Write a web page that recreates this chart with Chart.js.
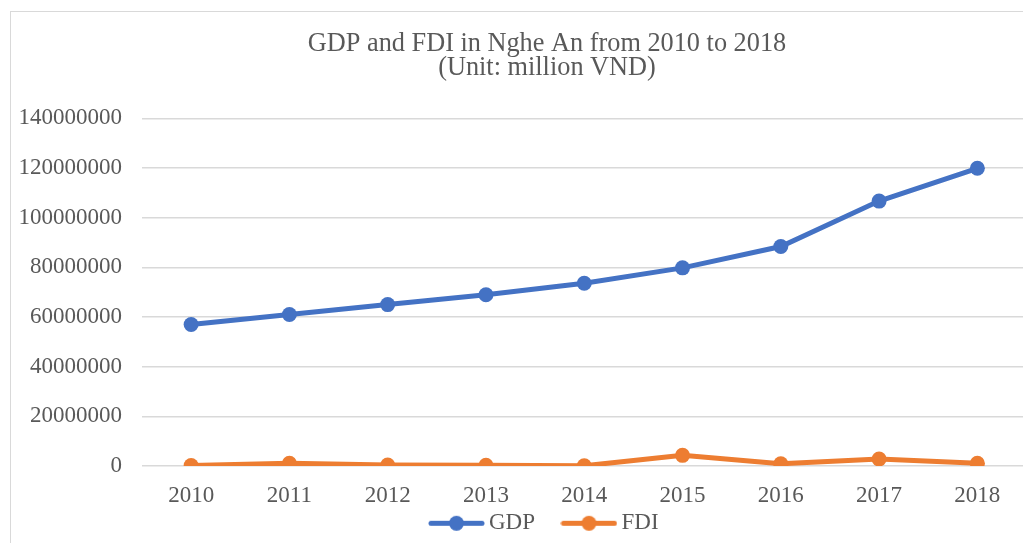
<!DOCTYPE html>
<html>
<head>
<meta charset="utf-8">
<script src="https://cdn.jsdelivr.net/npm/chart.js@4.4.1/dist/chart.umd.min.js"></script>
<style>
  html, body { margin: 0; padding: 0; background: #ffffff; overflow: hidden; width: 1023px; height: 543px; }
  #frame { position: absolute; left: 10px; top: 11px; width: 1200px; height: 800px; border: 1px solid #d9d9d9; box-sizing: border-box; }
  #wrap { position: absolute; left: 0; top: 0; width: 1094px; height: 576px; }
</style>
</head>
<body>
<div id="frame"></div>
<div id="wrap"><canvas id="c" width="1094" height="576"></canvas></div>
<script>
const years = ['2010', '2011', '2012', '2013', '2014', '2015', '2016', '2017', '2018'];
const gdp = [57000000, 61000000, 65000000, 69000000, 73600000, 79800000, 88400000, 106700000, 119900000];
const fdi = [200000, 1100000, 400000, 300000, 100000, 4300000, 900000, 2800000, 1100000];
const seriesNames = ['GDP', 'FDI'];
const titleLines = ['GDP and FDI in Nghe An from 2010 to 2018', '(Unit: million VND)'];

const blue = '#4472C4';
const orange = '#ED7D31';
const textColor = '#595959';
const gridColor = '#d9d9d9';
const serif = "'Liberation Serif', 'Times New Roman', serif";

function legendIcon(color) {
  const cv = document.createElement('canvas');
  cv.width = 57; cv.height = 17;
  const g = cv.getContext('2d');
  g.strokeStyle = color; g.lineWidth = 5; g.lineCap = 'round';
  g.beginPath(); g.moveTo(3, 8.5); g.lineTo(54, 8.5); g.stroke();
  g.fillStyle = color;
  g.beginPath(); g.arc(28.5, 8.5, 7.5, 0, Math.PI * 2); g.fill();
  return cv;
}
const icons = [legendIcon(blue), legendIcon(orange)];

// move the legend up so it sits just under the axis labels, as in the reference
const legendPlacer = {
  id: 'legendPlacer',
  afterLayout(chart) {
    const lg = chart.legend;
    if (!lg) return;
    const h = lg.height;
    lg.top = chart.chartArea.bottom + 12.8;
    lg.bottom = lg.top + h;
  }
};

new Chart(document.getElementById('c'), {
  type: 'line',
  data: {
    labels: years,
    datasets: [
      { label: seriesNames[0], data: gdp, borderColor: blue, backgroundColor: blue, borderWidth: 5,
        pointRadius: 7.5, pointHoverRadius: 7.5, pointBackgroundColor: blue, pointBorderWidth: 0, tension: 0, yAxisID: 'y' },
      { label: seriesNames[1], data: fdi, borderColor: orange, backgroundColor: orange, borderWidth: 5,
        pointRadius: 7.5, pointHoverRadius: 7.5, pointBackgroundColor: orange, pointBorderWidth: 0, tension: 0, yAxisID: 'y' }
    ]
  },
  plugins: [legendPlacer],
  options: {
    responsive: false,
    animation: false,
    devicePixelRatio: 1,
    layout: { padding: 0 },
    plugins: {
      tooltip: { enabled: false },
      title: {
        display: true,
        text: titleLines,
        color: textColor,
        font: { family: serif, size: 26.3, weight: 'normal', lineHeight: 0.92 },
        padding: { top: 32, bottom: 38 }
      },
      legend: {
        display: true,
        position: 'bottom',
        labels: {
          color: textColor,
          font: { family: serif, size: 23 },
          usePointStyle: true,
          pointStyleWidth: 42,
          padding: 33,
          generateLabels(chart) {
            const items = Chart.defaults.plugins.legend.labels.generateLabels(chart);
            items.forEach((it, i) => { it.pointStyle = icons[i]; });
            return items;
          }
        }
      }
    },
    scales: {
      x: {
        offset: true,
        grid: { display: false, drawTicks: false },
        border: { display: false },
        ticks: { color: textColor, font: { family: serif, size: 23 }, padding: 16, maxRotation: 0, autoSkip: false },
        afterFit(s) { s.height = 44; }
      },
      y: {
        min: 0, max: 140000000,
        grid: { color: gridColor, lineWidth: 1.5, drawTicks: false },
        border: { display: false },
        ticks: { stepSize: 20000000, color: textColor, font: { family: serif, size: 23 }, padding: 20,
                 callback: v => String(v) },
        afterFit(s) { s.width = 142; }
      },
      yr: {
        position: 'right',
        display: true,
        grid: { display: false, drawTicks: false },
        border: { display: false },
        ticks: { display: false },
        afterFit(s) { s.width = 1094 - 1026.5; }
      }
    }
  }
});
</script>
</body>
</html>
